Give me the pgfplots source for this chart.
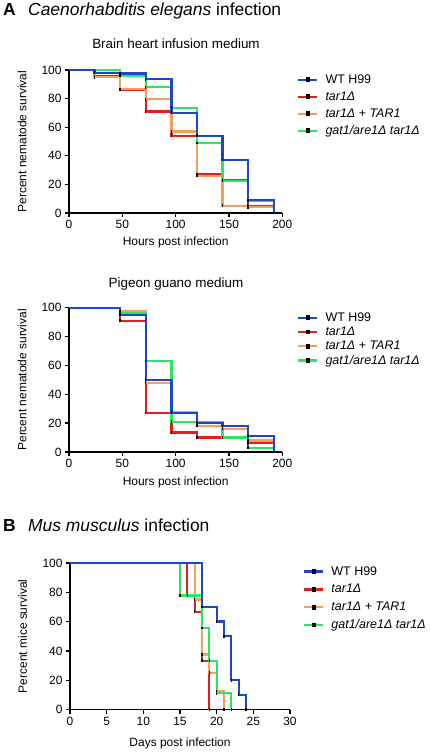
\documentclass[border=0pt]{standalone}
\usepackage{pgfplots}
\pgfplotsset{compat=1.18}
\usepackage{fontspec}
\setmainfont{Liberation Sans}
\definecolor{cblue}{RGB}{30,70,200}
\definecolor{cred}{RGB}{228,30,30}
\definecolor{corange}{RGB}{245,160,90}
\definecolor{cgreen}{RGB}{45,230,95}
\pgfplotsset{
  prism/.style={
    scale only axis,
    axis x line*=bottom, axis y line*=left,
    axis line style={line width=1.3bp, black},
    tick align=outside,
    major tick length=4bp,
    tick style={line width=1.3bp, black},
    ymin=0, ymax=100, ytick={0,20,...,100},
    tick label style={font=\fontsize{12}{14}\selectfont},
    /pgf/number format/assume math mode=true,
    label style={font=\fontsize{12}{14}\selectfont},
    clip=false,
    every axis plot/.append style={line width=2.3bp, const plot,
      mark=|, mark size=1.4bp, mark options={black, line width=1.4bp, solid},
      mark indices={2,3,4,5,6,7,8,9}},
    legend cell align=left,
    legend image code/.code={
      \draw[##1, line width=2.3bp] (0bp,0bp) -- (19bp,0bp);
      \fill[black] (8.9bp,-1.3bp) rectangle (10.1bp,1.3bp);
    },
    legend style={draw=none, fill=none, inner sep=0pt, anchor=north west,
      font=\fontsize{12.5}{14}\selectfont, column sep=7bp,
      nodes={inner sep=0pt, text height=9bp, text depth=2bp}},
  }
}
\begin{document}
\begin{tikzpicture}
\path[use as bounding box] (0,0) rectangle (430bp,754bp);
% Titles
\node[anchor=base west, inner sep=0pt, font=\fontsize{17.5}{20}\selectfont\bfseries] at (3bp,738bp) {A};
\node[anchor=base west, inner sep=0pt, font=\fontsize{17.5}{20}\selectfont] at (28bp,738bp) {\textit{Caenorhabditis elegans} infection};
\node[anchor=base, inner sep=0pt, font=\fontsize{13.5}{16}\selectfont] at (176bp,705.7bp) {Brain heart infusion medium};
\node[anchor=base, inner sep=0pt, font=\fontsize{13.5}{16}\selectfont] at (176bp,466bp) {Pigeon guano medium};
\node[anchor=base west, inner sep=0pt, font=\fontsize{17.5}{20}\selectfont\bfseries] at (3bp,222.3bp) {B};
\node[anchor=base west, inner sep=0pt, font=\fontsize{17.5}{20}\selectfont] at (28bp,222.3bp) {\textit{Mus musculus} infection};

% Panel A1
\begin{axis}[prism, at={(69bp,541bp)}, anchor=south west,
  width=213.3bp, height=143bp,
  xmin=0, xmax=200, xtick={0,50,...,200},
  xlabel={Hours post infection}, ylabel={Percent nematode survival},
  xlabel style={at={(axis description cs:0.5,0)}, anchor=center, yshift=-29bp},
  ylabel style={at={(axis description cs:-0.2203,0.5)}, anchor=center},
  legend style={at={(axis description cs:1.069,0.972)}, row sep=6bp}]
\addplot[cblue] coordinates {(0,100)(24,98)(48,97.5)(72,93.5)(96,70)(120,54)(144,37)(168,9)(192,0)};
\addlegendentry{WT H99}
\addplot[cred] coordinates {(0,100)(24,95.5)(48,86)(72,71)(96,54)(120,27)(144,23)(168,5)(192,0)};
\addlegendentry{\textit{tar1Δ}}
\addplot[corange] coordinates {(0,100)(24,95)(48,86.5)(72,79.5)(96,57)(120,26)(144,5)(168,4)(192,0)};
\addlegendentry{\textit{tar1Δ} + \textit{TAR1}}
\addplot[cgreen] coordinates {(0,100)(48,96)(72,88)(96,73.5)(120,49)(144,22.5)(168,8.5)(192,0)};
\addlegendentry{\textit{gat1/are1Δ tar1Δ}}
\addplot[cblue, forget plot] coordinates {(0,100)(24,98)(48,97.5)(72,93.5)(96,70)(120,54)(144,37)(168,9)(192,0)};
\end{axis}

% Panel A2
\begin{axis}[prism, at={(69bp,302bp)}, anchor=south west,
  width=213.3bp, height=144.3bp,
  xmin=0, xmax=200, xtick={0,50,...,200},
  xlabel={Hours post infection}, ylabel={Percent nematode survival},
  xlabel style={at={(axis description cs:0.5,0)}, anchor=center, yshift=-30bp},
  ylabel style={at={(axis description cs:-0.2203,0.5)}, anchor=center},
  legend style={at={(axis description cs:1.069,0.970)}, row sep=3.3bp}]
\addplot[cblue] coordinates {(0,100)(48,95)(72,50)(96,27)(120,20)(144,18)(168,11)(192,0)};
\addlegendentry{WT H99}
\addplot[cred] coordinates {(0,100)(48,91)(72,27)(96,13.5)(120,10)(168,6)(192,0)};
\addlegendentry{\textit{tar1Δ}}
\addplot[corange] coordinates {(0,100)(48,97.7)(72,48)(96,27.6)(120,18)(144,16)(168,8)(192,0)};
\addlegendentry{\textit{tar1Δ} + \textit{TAR1}}
\addplot[cgreen] coordinates {(0,100)(48,96)(72,63)(96,21)(144,10)(168,3)(192,0)};
\addlegendentry{\textit{gat1/are1Δ tar1Δ}}
\addplot[cblue, forget plot] coordinates {(0,100)(48,95)(72,50)(96,27)(120,20)(144,18)(168,11)(192,0)};
\end{axis}

% Panel B
\begin{axis}[prism, at={(70bp,44.5bp)}, anchor=south west,
  width=220bp, height=146.5bp,
  xmin=0, xmax=30, xtick={0,5,...,30},
  xlabel={Days post infection}, ylabel={Percent mice survival},
  xlabel style={at={(axis description cs:0.5,0)}, anchor=center, yshift=-33.5bp},
  ylabel style={at={(axis description cs:-0.216,0.5)}, anchor=center},
  legend style={at={(axis description cs:1.059,0.98)}, row sep=6.8bp}]
\addplot[cblue] coordinates {(0,100)(18,70)(20,60)(21,50)(22,20)(23,10)(24,0)};
\addlegendentry{WT H99}
\addplot[cred] coordinates {(0,100)(16,77.8)(17,66.7)(18,33.3)(19,0)};
\addlegendentry{\textit{tar1Δ}}
\addplot[corange] coordinates {(0,100)(17,75)(18,37.5)(19,25)(20,12.5)(21,0)};
\addlegendentry{\textit{tar1Δ} + \textit{TAR1}}
\addplot[cgreen] coordinates {(0,100)(15,77.8)(18,55.6)(19,33.3)(20,11.1)(22,0)};
\addlegendentry{\textit{gat1/are1Δ tar1Δ}}
\addplot[cblue, forget plot] coordinates {(0,100)(18,70)(20,60)(21,50)(22,20)(23,10)(24,0)};
\end{axis}
\end{tikzpicture}
\end{document}
